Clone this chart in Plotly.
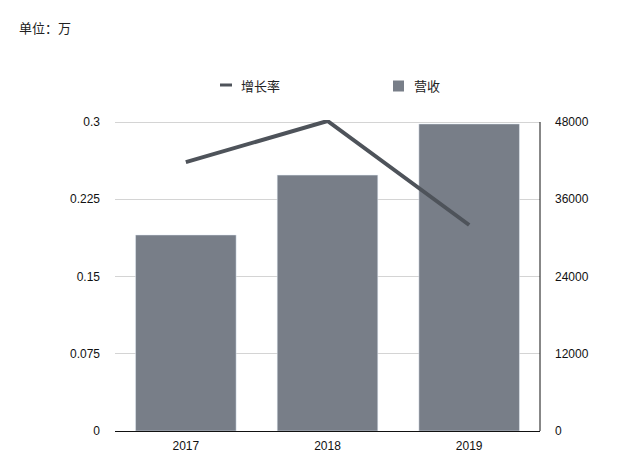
import plotly.graph_objects as go

years = ["2017", "2018", "2019"]
revenue = [30450, 39750, 47700]
growth = [0.261, 0.301, 0.2]
bar_name = "营收"
line_name = "增长率"
unit_label = "单位：万"
left_ticks = [0, 0.075, 0.15, 0.225, 0.3]
left_tick_text = ["0", "0.075", "0.15", "0.225", "0.3"]
right_ticks = [0, 12000, 24000, 36000, 48000]

BAR_COLOR = "#787e88"
LINE_COLOR = "#4e535a"
FONT = "Helvetica, Arial, 'Liberation Sans', 'Noto Sans CJK SC', sans-serif"

# page offset of 8px (body margin)
OFF = 8
W, H = 630 - OFF, 465 - OFF
L = 115 - OFF
R = 630 - 540
B = 465 - 431 - 0
EXTRA = 2  # px of headroom above top tick
T = 122 - OFF - EXTRA
pw, ph = W - L - R, H - T - B
scale = ph / (ph - EXTRA)

fig = go.Figure()
fig.add_trace(go.Bar(x=years, y=revenue, name=bar_name, marker_color=BAR_COLOR,
                     width=0.71, yaxis="y", showlegend=False))
fig.add_trace(go.Scatter(x=years, y=growth, name=line_name, mode="lines",
                         line=dict(color=LINE_COLOR, width=4), yaxis="y2",
                         showlegend=False))


def px(x):
    return (x - OFF - L) / pw


def py(y):
    return (H - B - (y - OFF)) / ph


shapes = [
    dict(type="line", xref="paper", yref="paper", x0=px(220), x1=px(232), y0=py(85), y1=py(85),
         line=dict(color=LINE_COLOR, width=3)),
    dict(type="rect", xref="paper", yref="paper", x0=px(393), x1=px(404), y0=py(80.5), y1=py(91.5),
         fillcolor=BAR_COLOR, line=dict(width=0)),
    dict(type="line", xref="paper", yref="paper", x0=1, x1=1, y0=0, y1=py(122),
         line=dict(color="#111", width=1)),
]
TXT = dict(size=13, color="#222", family="'Noto Sans CJK SC', sans-serif")
annotations = [
    dict(text=line_name, xref="paper", yref="paper", x=px(239), y=py(85), xanchor="left",
         yanchor="middle", showarrow=False, font=TXT),
    dict(text=bar_name, xref="paper", yref="paper", x=px(412), y=py(85), xanchor="left",
         yanchor="middle", showarrow=False, font=TXT),
    dict(text=unit_label, xref="paper", yref="paper", x=px(17), y=py(27), xanchor="left",
         yanchor="middle", showarrow=False, font=TXT),
]

fig.update_layout(
    width=W, height=H,
    margin=dict(l=L, r=R, t=T, b=B, pad=0),
    paper_bgcolor="white", plot_bgcolor="white",
    font=dict(family=FONT, size=12, color="#111"),
    xaxis=dict(type="category", range=[-0.5, 2.5], showline=True, linecolor="#111", linewidth=1,
               showgrid=False, ticks="", zeroline=False, ticklabelstandoff=4),
    yaxis=dict(range=[0, 48000 * scale], tickvals=right_ticks, tickformat="d", side="right",
               showline=False, showgrid=True, gridcolor="#d4d4d4",
               zeroline=False, ticks="", ticklabelstandoff=14),
    yaxis2=dict(range=[0, 0.3 * scale], tickvals=left_ticks, ticktext=left_tick_text, side="left",
                overlaying="y", showgrid=False, zeroline=False, showline=False, ticks="",
                ticklabelstandoff=14),
    shapes=shapes, annotations=annotations, showlegend=False,
)

fig.write_html("out.html")
